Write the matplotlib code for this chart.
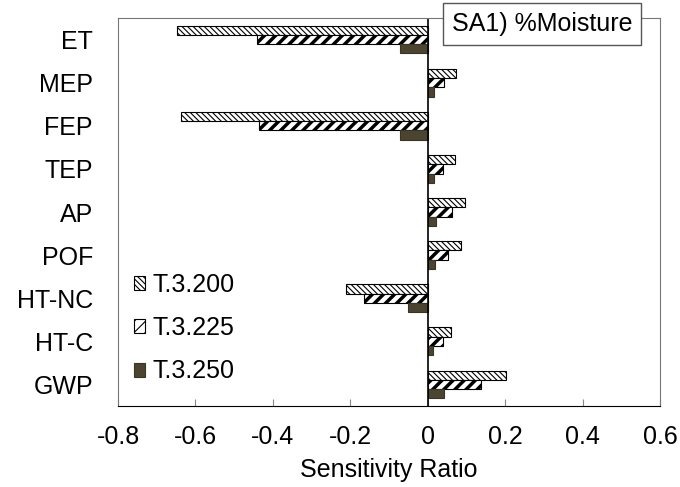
import matplotlib.pyplot as plt
import numpy as np

categories = ['ET', 'MEP', 'FEP', 'TEP', 'AP', 'POF', 'HT-NC', 'HT-C', 'GWP']
series_names = ['T.3.200', 'T.3.225', 'T.3.250']
t200 = [-0.647, 0.073, -0.636, 0.070, 0.097, 0.085, -0.210, 0.060, 0.201]
t225 = [-0.442, 0.041, -0.437, 0.040, 0.064, 0.053, -0.165, 0.040, 0.137]
t250 = [-0.072, 0.016, -0.072, 0.016, 0.022, 0.019, -0.051, 0.014, 0.042]

plt.rcParams['font.family'] = ['Liberation Sans', 'DejaVu Sans']
plt.rcParams['hatch.linewidth'] = 0.8

fig = plt.figure(figsize=(6.8, 4.87), dpi=100)
ax = fig.add_axes([118 / 680, 1 - 406 / 487, (660 - 118) / 680, (406 - 18) / 487])

y = np.arange(len(categories))
h = 0.215
styles = [
    dict(facecolor='white', edgecolor='black', hatch='\\\\\\\\\\\\'),
    dict(facecolor='white', edgecolor='black', hatch='///'),
    dict(facecolor='#4b4430', edgecolor='#3a3422', hatch=None),
]
for i, (vals, st) in enumerate(zip([t200, t225, t250], styles)):
    b = ax.barh(y + (i - 1) * h, vals, height=h, linewidth=0.8, label=series_names[i], **st)
    if i == 1:
        for p in b:
            if hasattr(p, 'set_hatch_linewidth'):
                p.set_hatch_linewidth(2.5)

ax.set_ylim(len(categories) - 0.5, -0.5)
ax.set_xlim(-0.8, 0.6)
ax.set_xticks(np.arange(-0.8, 0.61, 0.2))
ax.set_xticklabels(['-0.8', '-0.6', '-0.4', '-0.2', '0', '0.2', '0.4', '0.6'])
ax.set_yticks(y)
ax.set_yticklabels(categories)
ax.tick_params(axis='y', length=0, labelsize=18, pad=18)
ax.tick_params(axis='x', direction='in', length=5, color='#888888', labelsize=18, pad=14)
ax.axvline(0, color='black', linewidth=1.2)
for s in ['top', 'right', 'left']:
    ax.spines[s].set_color('#777777')
ax.spines['bottom'].set_color('black')
ax.set_xlabel('Sensitivity Ratio', fontsize=18, labelpad=6)

ax.text(0.782, 0.985, 'SA1) %Moisture', transform=ax.transAxes, fontsize=18,
        ha='center', va='center',
        bbox=dict(boxstyle='square,pad=0.35', facecolor='white', edgecolor='#555555', linewidth=1))

leg = ax.legend(loc='lower left', bbox_to_anchor=(-0.012, 0.0), frameon=False, fontsize=18,
                handlelength=0.45, handleheight=0.5, handletextpad=0.3, labelspacing=0.78)

fig.savefig('out.png', dpi=100)
